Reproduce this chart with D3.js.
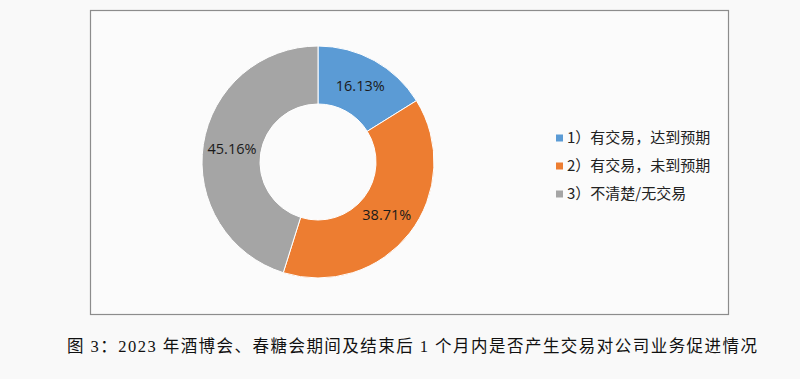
<!DOCTYPE html>
<html>
<head>
<meta charset="utf-8">
<script src="https://cdn.jsdelivr.net/npm/d3@7"></script>
<style>
  body { margin: 0; background: #f9f9f9; }
</style>
</head>
<body>
<div id="chart"></div>
<script>
// data
const categories = ["1）有交易，达到预期", "2）有交易，未到预期", "3）不清楚/无交易"];
const shares = [16.13, 38.71, 45.16];
const colors = ["#5b9bd5", "#ed7d31", "#a5a5a5"];
const caption = "图 3：2023 年酒博会、春糖会期间及结束后 1 个月内是否产生交易对公司业务促进情况";

const WIDTH = 800, HEIGHT = 379;
const svg = d3.select("#chart").append("svg")
    .attr("width", WIDTH)
    .attr("height", HEIGHT);

// chart frame
svg.append("rect")
    .attr("x", 90.5).attr("y", 10.5)
    .attr("width", 638).attr("height", 304)
    .attr("fill", "#fbfbfb")
    .attr("stroke", "#8c8c8c")
    .attr("stroke-width", 1.2);

const cx = 318, cy = 162, outerR = 116, innerR = 58;

const pie = d3.pie().sort(null).value(d => d);
const arc = d3.arc().innerRadius(innerR).outerRadius(outerR);
const labelArc = d3.arc().innerRadius((innerR + outerR) / 2).outerRadius((innerR + outerR) / 2);

const g = svg.append("g").attr("transform", `translate(${cx}, ${cy})`);
const arcs = pie(shares);

g.selectAll("path")
    .data(arcs)
    .join("path")
    .attr("d", arc)
    .attr("fill", (d, i) => colors[i])
    .attr("stroke", "#ffffff")
    .attr("stroke-width", 1);

g.selectAll("text")
    .data(arcs)
    .join("text")
    .attr("transform", d => `translate(${labelArc.centroid(d)})`)
    .attr("text-anchor", "middle")
    .attr("dy", "0.35em")
    .style("font-family", "'Open Sans', 'Noto Sans', sans-serif")
    .style("font-size", "14.5px")
    .style("fill", "#1a1a1a")
    .text(d => d.data.toFixed(2) + "%");

// legend
const legend = svg.append("g").attr("transform", "translate(556, 138)");
const rows = legend.selectAll("g")
    .data(categories)
    .join("g")
    .attr("transform", (d, i) => `translate(0, ${i * 28})`);

rows.append("rect")
    .attr("x", 0).attr("y", -3.5)
    .attr("width", 7).attr("height", 7)
    .attr("fill", (d, i) => colors[i]);

rows.append("text")
    .attr("x", 11)
    .attr("dy", "0.36em")
    .style("font-family", "'Noto Sans CJK SC', sans-serif")
    .style("font-size", "15px")
    .style("fill", "#222")
    .text(d => d);

// caption
svg.append("text")
    .attr("x", 67)
    .attr("y", 346)
    .attr("dy", "0.35em")
    .attr("textLength", 690)
    .attr("lengthAdjust", "spacing")
    .style("font-family", "'Liberation Serif', 'Noto Sans CJK SC', serif")
    .style("font-size", "16.5px")
    .style("fill", "#111")
    .text(caption);
</script>
</body>
</html>
